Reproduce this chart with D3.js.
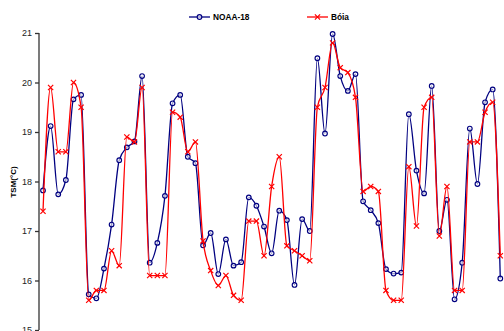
<html>
<head>
    <style>
        body { margin: 0; background: #fff; }
        text { font-family: "Liberation Sans", Arial, sans-serif; }
    </style>
</head>
<body>
    <div id="chart"></div>
    <script src="https://d3js.org/d3.v7.min.js"></script>
    <script>
        // sample index (one per observation)
        var days = d3.range(61);

        var noaa = [17.82, 19.12, 17.74, 18.03, 19.66, 19.75, 15.72, 15.64, 16.24, 17.13,
            18.43, 18.69, 18.81, 20.13, 16.36, 16.76, 17.71, 19.58, 19.75, 18.5,
            18.37, 16.71, 16.96, 16.13, 16.83, 16.3, 16.37, 17.68, 17.51, 17.09,
            16.55, 17.41, 17.22, 15.91, 17.24, 17.0, 20.49, 18.97, 20.98, 20.13,
            19.83, 20.17, 17.6, 17.42, 17.16, 16.23, 16.14, 16.16, 19.36, 18.22,
            17.76, 19.93, 17.0, 17.63, 15.62, 16.36, 19.07, 17.95, 19.6, 19.86, 16.04];

        var boia = [17.4, 19.9, 18.6, 18.6, 20.0, 19.5, 15.6, 15.8, 15.8, 16.6,
            16.3, 18.9, 18.8, 19.9, 16.1, 16.1, 16.1, 19.4, 19.3, 18.6,
            18.8, 16.8, 16.2, 15.9, 16.1, 15.7, 15.6, 17.2, 17.2, 16.5,
            17.9, 18.5, 16.7, 16.6, 16.5, 16.4, 19.5, 19.9, 20.8, 20.3,
            20.2, 19.7, 17.8, 17.9, 17.8, 15.8, 15.6, 15.6, 18.3, 17.1,
            19.5, 19.7, 16.9, 17.9, 15.8, 15.8, 18.8, 18.8, 19.4, 19.6, 16.5];

        var yTicks = [15, 16, 17, 18, 19, 20, 21];

        var width = 504,
            height = 331;

        var svg = d3.select("#chart")
            .append("svg")
            .attr("width", width)
            .attr("height", height);

        var x = d3.scaleLinear().domain([0, 60]).range([43, 500.3]);
        var y = d3.scaleLinear().domain([15, 21]).range([330, 33]);

        // y axis
        var yAxis = svg.append("g")
            .attr("transform", "translate(39,0)")
            .call(d3.axisLeft(y).tickValues(yTicks).tickFormat(d3.format("d")).tickSize(4).tickPadding(3));
        yAxis.selectAll("path, line").attr("stroke", "#333").attr("stroke-width", 1.3);
        yAxis.select(".domain").attr("d", "M0," + y(15) + "V" + y(21));
        yAxis.selectAll("text").attr("font-size", 9).attr("fill", "#222")
            .style("font-family", "Liberation Sans, Arial, sans-serif");

        svg.append("text")
            .attr("transform", "translate(16," + 182 + ") rotate(-90)")
            .attr("text-anchor", "middle")
            .attr("font-size", 8)
            .attr("font-weight", "bold")
            .text("TSM(°C)");

        var series = [
            { name: "NOAA-18", values: noaa, color: "#000080", marker: "circle" },
            { name: "Bóia", values: boia, color: "#ff0000", marker: "cross" }
        ];

        var line = d3.line()
            .x(function (d, i) { return x(days[i]); })
            .y(function (d) { return y(d); })
            .curve(d3.curveMonotoneX);

        function drawMarker(g, type, color) {
            if (type == "circle") {
                g.append("circle").attr("r", 2.3)
                    .attr("fill", "#fff").attr("fill-opacity", 0.6)
                    .attr("stroke", color).attr("stroke-width", 1.2);
            } else {
                g.append("path").attr("d", "M-2.6,-2.6L2.6,2.6M-2.6,2.6L2.6,-2.6")
                    .attr("stroke", color).attr("stroke-width", 1.2).attr("fill", "none");
            }
        }

        series.forEach(function (s) {
            svg.append("path")
                .attr("d", line(s.values))
                .attr("fill", "none")
                .attr("stroke", s.color)
                .attr("stroke-width", 1.3);

            svg.append("g").selectAll("g")
                .data(s.values)
                .enter().append("g")
                .attr("transform", function (d, i) { return "translate(" + x(days[i]) + "," + y(d) + ")"; })
                .each(function () { drawMarker(d3.select(this), s.marker, s.color); });
        });

        // legend
        var legendX = [189, 307];
        series.forEach(function (s, k) {
            var lg = svg.append("g").attr("transform", "translate(" + legendX[k] + ",17)");
            lg.append("line").attr("x1", 0).attr("x2", 21).attr("y1", 0).attr("y2", 0)
                .attr("stroke", s.color).attr("stroke-width", 1.3);
            var m = lg.append("g").attr("transform", "translate(10.5,0)");
            drawMarker(m, s.marker, s.color);
            lg.append("text").attr("x", 24).attr("y", 3)
                .attr("font-size", 8.3).attr("font-weight", "bold")
                .text(s.name);
        });
    </script>
</body>
</html>
